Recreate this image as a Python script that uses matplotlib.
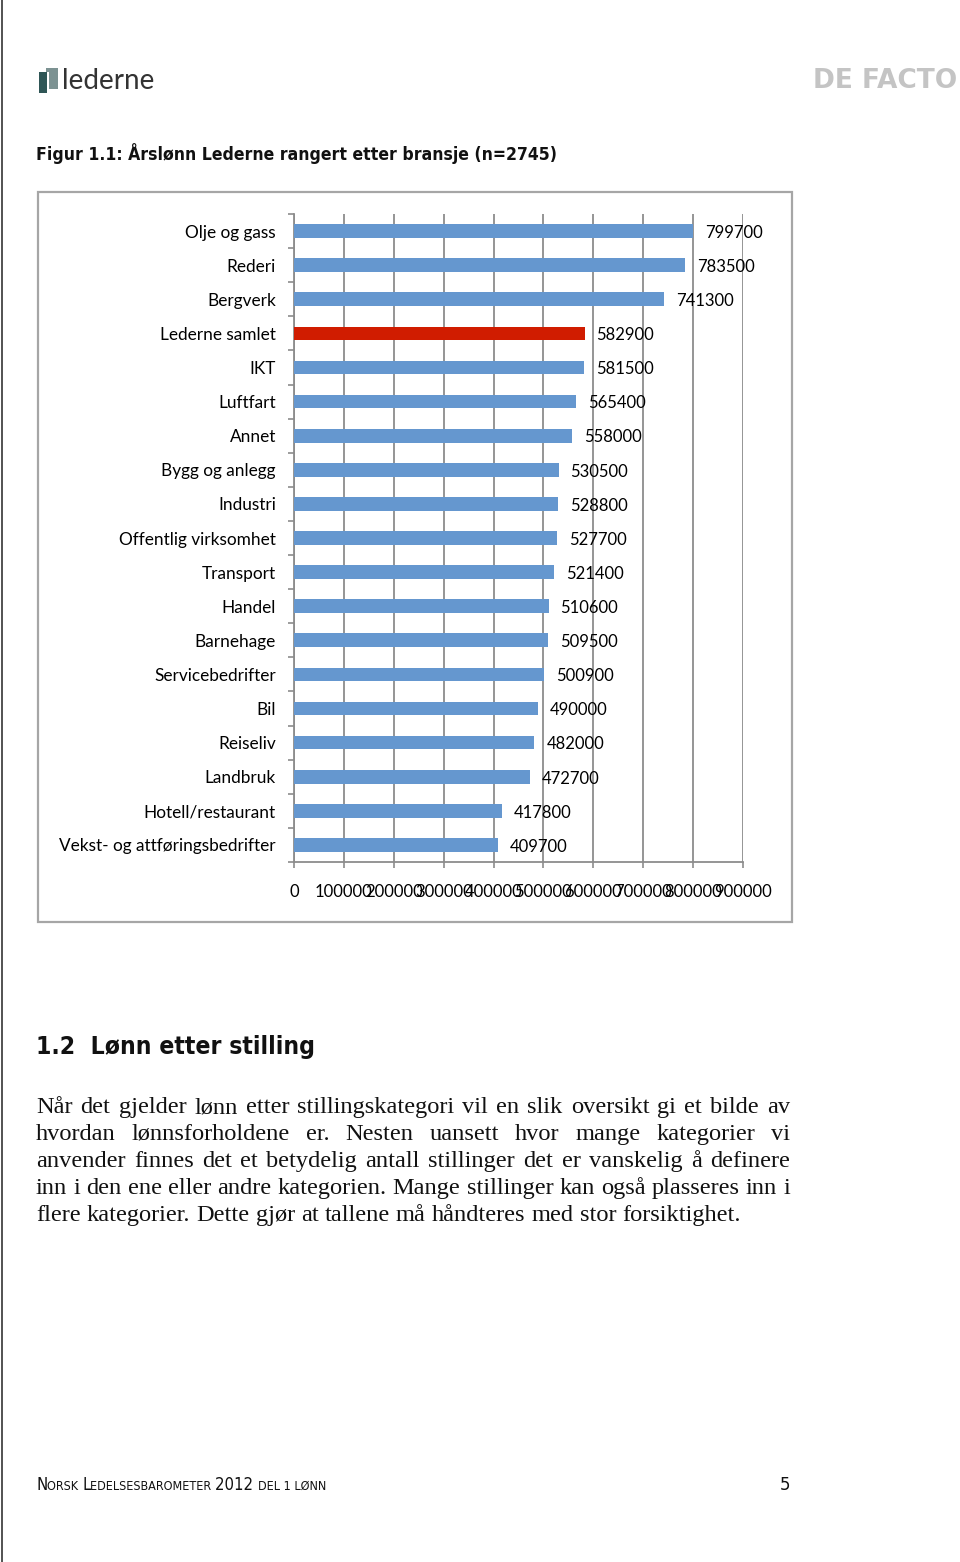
"""Figur 1.1: Årslønn Lederne rangert etter bransje, as a report page."""

import matplotlib

matplotlib.use("Agg")
import matplotlib.pyplot as plt
from matplotlib.patches import Rectangle

# Data (top to bottom).
CATEGORIES = [
    "Olje og gass", "Rederi", "Bergverk", "Lederne samlet", "IKT",
    "Luftfart", "Annet", "Bygg og anlegg", "Industri",
    "Offentlig virksomhet", "Transport", "Handel", "Barnehage",
    "Servicebedrifter", "Bil", "Reiseliv", "Landbruk", "Hotell/restaurant",
    "Vekst- og attføringsbedrifter",
]
SALARIES = [
    799700, 783500, 741300, 582900, 581500, 565400, 558000, 530500, 528800,
    527700, 521400, 510600, 509500, 500900, 490000, 482000, 472700, 417800,
    409700,
]
HIGHLIGHT = "Lederne samlet"
X_TICKS = list(range(0, 900001, 100000))

TITLE = "Figur 1.1: Årslønn Lederne rangert etter bransje (n=2745)"
HEADING = "1.2  Lønn etter stilling"
BODY_LINES = [
    "Når det gjelder lønn etter stillingskategori vil en slik oversikt gi et bilde av",
    "hvordan lønnsforholdene er. Nesten uansett hvor mange kategorier vi",
    "anvender finnes det et betydelig antall stillinger det er vanskelig å definere",
    "inn i den ene eller andre kategorien. Mange stillinger kan også plasseres inn i",
    "flere kategorier. Dette gjør at tallene må håndteres med stor forsiktighet.",
]
FOOTER_PARTS = [("N", 12), ("ORSK ", 9), ("L", 12), ("EDELSESBAROMETER ", 9),
                ("2012 ", 12), ("DEL 1 LØNN", 9)]

BLUE = "#6597cf"
RED = "#d01c00"
GRID = "#8c8c8c"
SANS = ["Lato", "DejaVu Sans"]

W, H = 960, 1562
fig = plt.figure(figsize=(W / 100, H / 100), dpi=100)
renderer = fig.canvas.get_renderer()

# Page layer in pixel coordinates.
page = fig.add_axes([0, 0, 1, 1])
page.set_xlim(0, W)
page.set_ylim(H, 0)
page.axis("off")

# Left page edge.
page.plot([2, 2], [0, H], color="#444444", lw=1.3)

# Lederne logo.
page.add_patch(Rectangle((46, 68), 12, 21, color="#7c9292", lw=0))
page.add_patch(Rectangle((39, 72), 8, 21, color="#2f5656", lw=0))
page.add_patch(Rectangle((47, 72), 1.5, 17, color="white", lw=0))
page.text(62, 89, "lederne", fontsize=20, color="#333333", family=SANS,
          va="baseline", ha="left")

# De Facto logo.
page.text(957, 88, "DE FACTO", fontsize=19, fontweight="bold",
          color="#c4c4c4", family="DejaVu Sans", va="baseline", ha="right")


def fit_size(text, width, **kw):
    """Font size that makes text span the given pixel width."""
    probe = page.text(0, 0, text, fontsize=10, **kw)
    size = 10 * width / probe.get_window_extent(renderer).width
    probe.remove()
    return size


# Figure caption.
cond = dict(family="DejaVu Sans", fontstretch="condensed")
page.text(36, 160, TITLE, fontsize=fit_size(TITLE, 520, fontweight="bold",
                                             **cond),
          fontweight="bold", color="#111111", va="baseline", **cond)

# Chart frame.
page.add_patch(Rectangle((38, 192), 754, 730, fill=False, ec="#a6a6a6",
                         lw=1.6))

# Chart.
ax = fig.add_axes([294 / W, 1 - 862 / H, (743 - 294) / W, (862 - 214) / H])
positions = list(range(len(CATEGORIES)))
colors = [RED if c == HIGHLIGHT else BLUE for c in CATEGORIES]
ax.barh(positions, SALARIES, height=0.4, color=colors, zorder=3)
for pos, value in zip(positions, SALARIES):
    ax.annotate(f"{value}", (value, pos), xytext=(8.5, -1.3),
                textcoords="offset points", va="center", ha="left",
                fontsize=12, family=SANS, zorder=4)

ax.set_xlim(X_TICKS[0], X_TICKS[-1])
ax.set_ylim(len(CATEGORIES) - 0.5, -0.5)
ax.set_xticks(X_TICKS)
ax.set_xticklabels([str(t) for t in X_TICKS], fontsize=12, family=SANS)
ax.set_yticks(positions)
ax.set_yticklabels(CATEGORIES, fontsize=12.4, family=SANS)
ax.set_yticks([p - 0.5 for p in positions] + [len(CATEGORIES) - 0.5],
              minor=True)
ax.tick_params(axis="y", which="major", length=0, pad=13)
ax.tick_params(axis="y", which="minor", length=4, width=1.2, color=GRID)
ax.tick_params(axis="x", length=4.5, width=1.2, color=GRID, pad=11.5)
ax.xaxis.grid(True, color=GRID, lw=1.3)
ax.set_axisbelow(True)
for side in ("top", "right"):
    ax.spines[side].set_visible(False)
for side in ("left", "bottom"):
    ax.spines[side].set_color(GRID)
    ax.spines[side].set_linewidth(1.3)

# Section heading.
page.text(36, 1054, HEADING,
          fontsize=fit_size(HEADING, 278, fontweight="bold", **cond),
          fontweight="bold", color="#111111", va="baseline", **cond)

# Justified body text.
body_size = fit_size(BODY_LINES[-1], 706, family="Liberation Serif")
left, right = 36, 790
for i, line in enumerate(BODY_LINES):
    y = 1113 + 27 * i
    words = line.split(" ")
    arts = [page.text(0, y, w, fontsize=body_size, family="Liberation Serif",
                      color="#111111", va="baseline") for w in words]
    if i == len(BODY_LINES) - 1:
        gap = renderer.points_to_pixels(body_size) * 0.25
    else:
        widths = [a.get_window_extent(renderer).width for a in arts]
        gap = (right - left - sum(widths)) / (len(words) - 1)
    x = left
    for a in arts:
        a.set_x(x)
        x += a.get_window_extent(renderer).width + gap

# Footer in small caps.
x = 36
for part, size in FOOTER_PARTS:
    t = page.text(x, 1490, part, fontsize=size, color="#111111",
                  va="baseline", **cond)
    x += t.get_window_extent(renderer).width
page.text(790, 1490, "5", fontsize=12, family="DejaVu Sans",
          color="#111111", va="baseline", ha="right")

fig.savefig("out.png", dpi=100)
